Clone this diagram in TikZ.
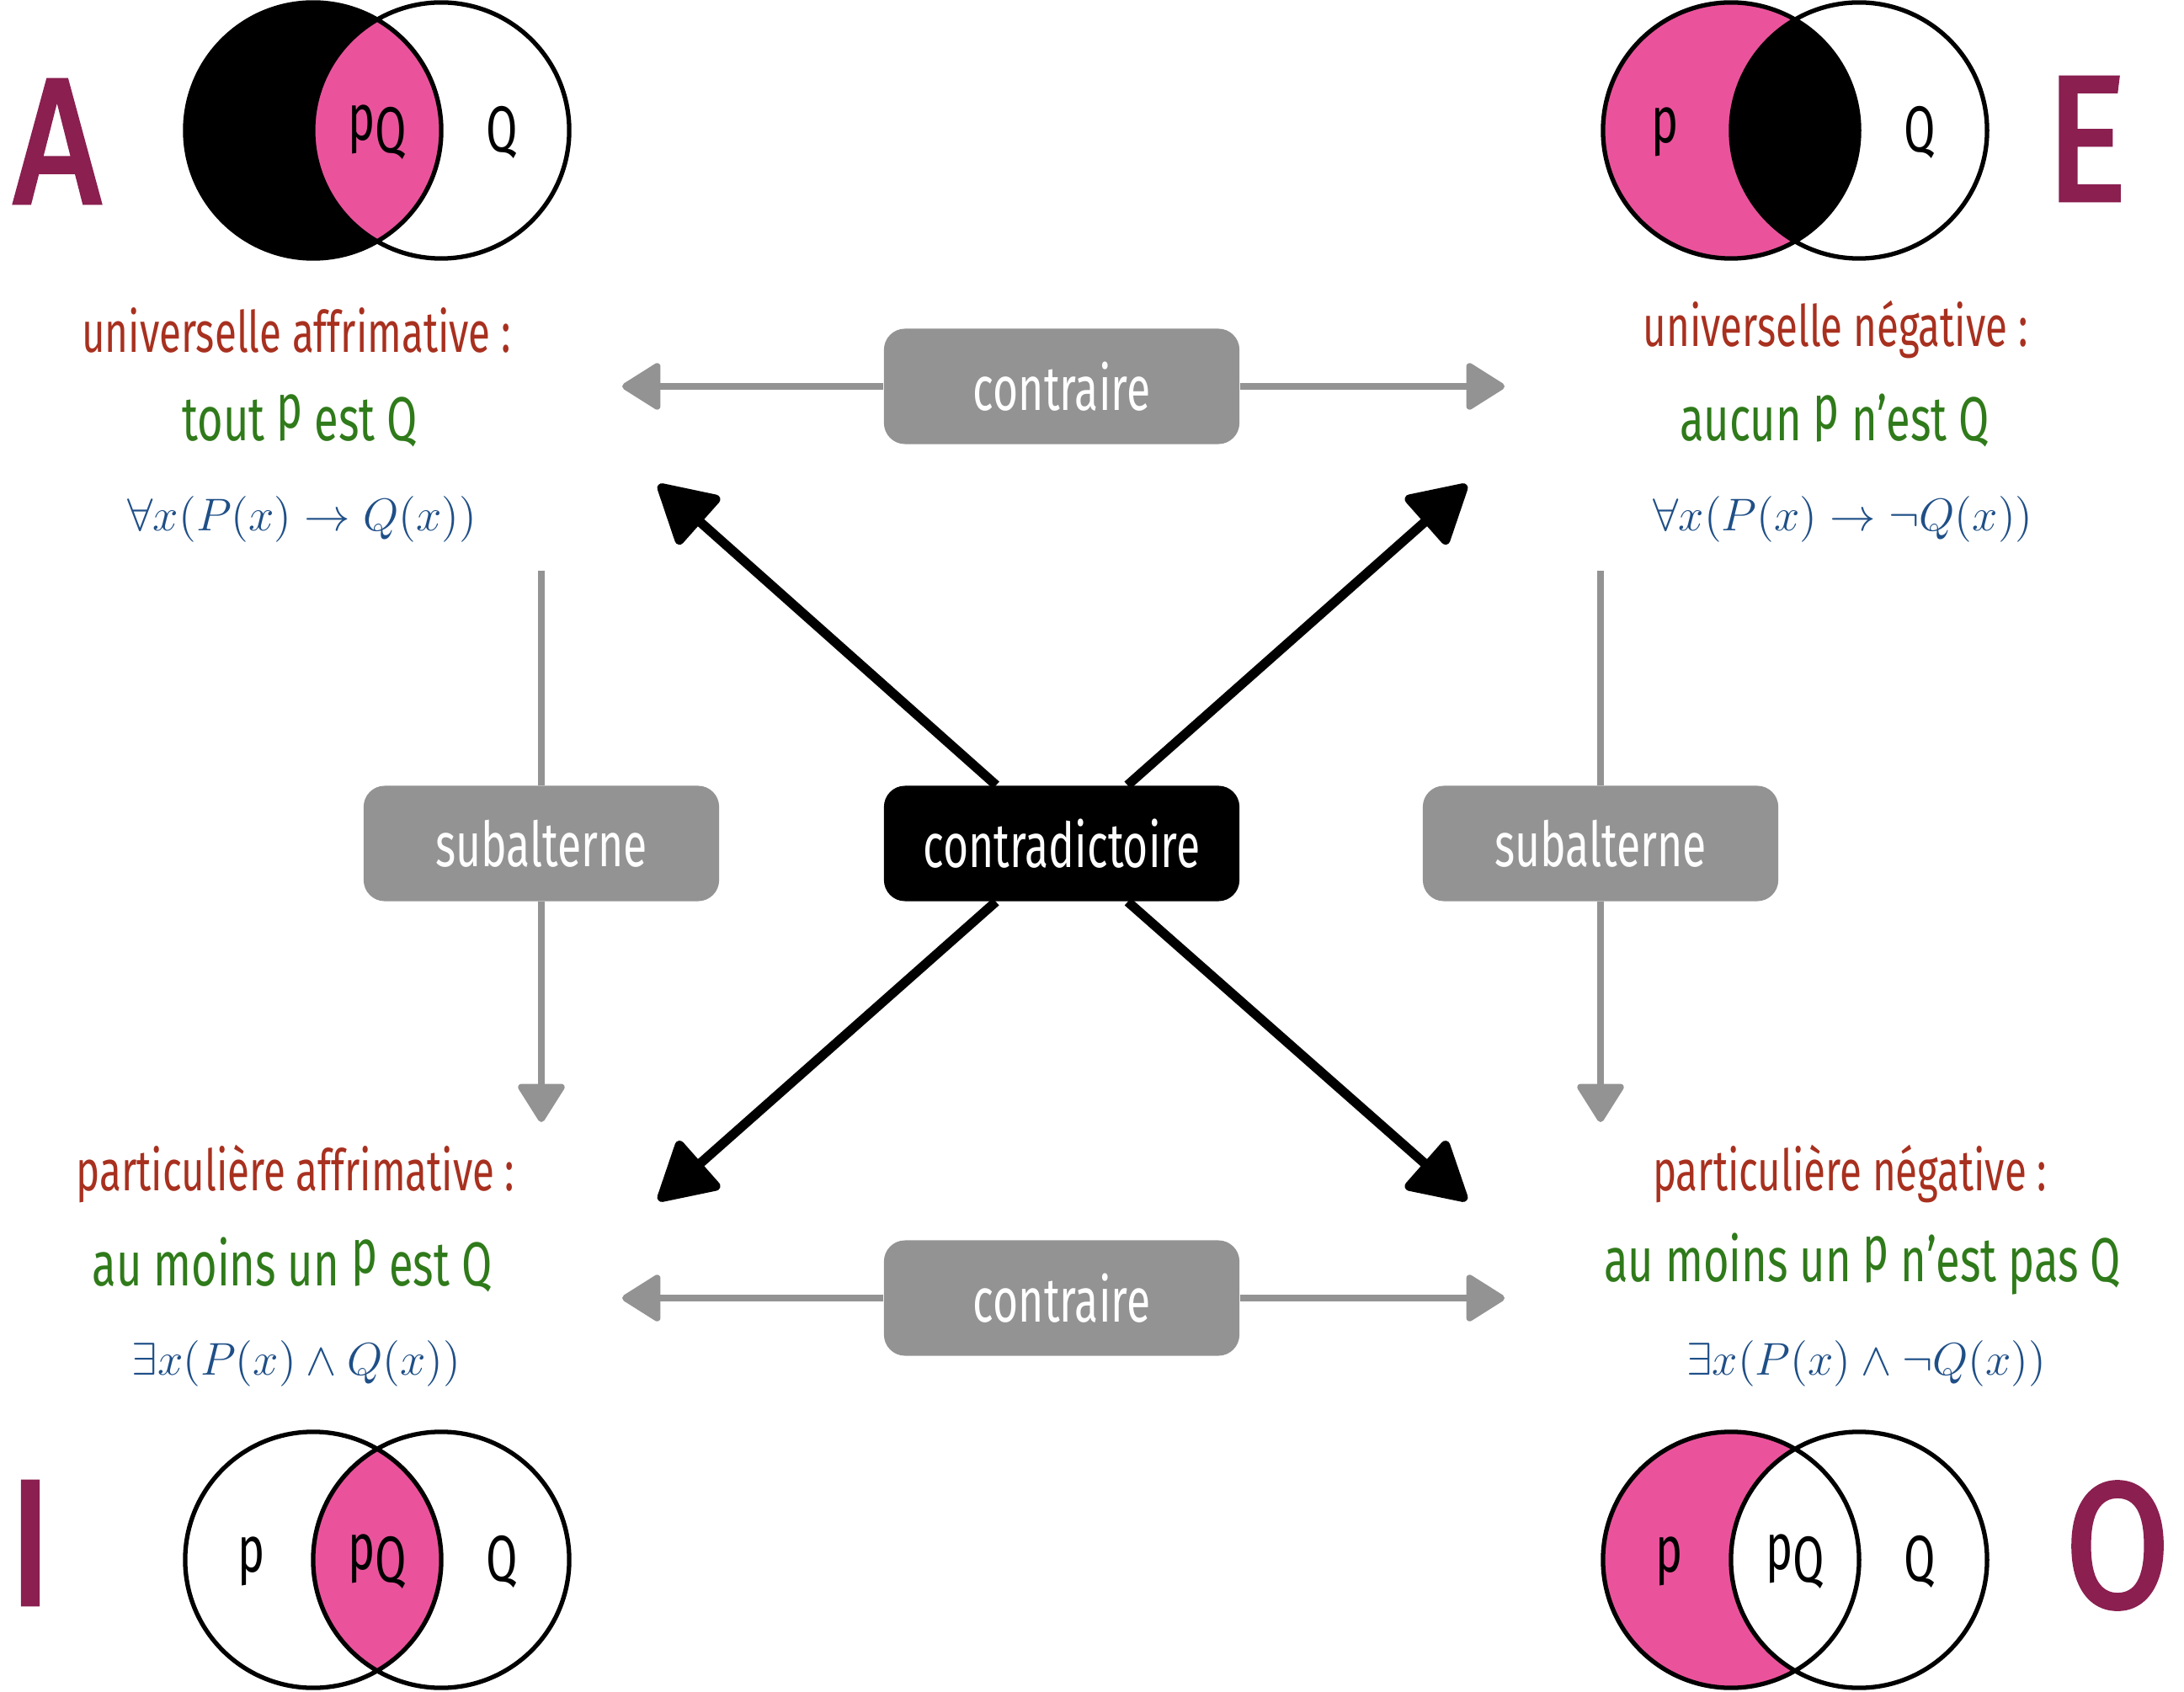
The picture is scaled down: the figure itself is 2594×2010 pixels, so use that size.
\documentclass[tikz,border=0pt]{standalone}
\usepackage{fix-cm}
\usepackage{fontspec}
\newfontfamily\hand[FakeStretch=0.70]{Fira Sans}
\newfontfamily\greenhand[FakeStretch=0.71]{Fira Sans}
\newfontfamily\letterfont[FakeStretch=0.85,FakeBold=2.5]{Fira Sans}
\usetikzlibrary{arrows.meta}
\definecolor{pinkv}{RGB}{234,83,155}
\definecolor{lettercol}{RGB}{138,31,80}
\definecolor{redtxt}{RGB}{168,48,31}
\definecolor{greentxt}{RGB}{47,122,26}
\definecolor{bluetxt}{RGB}{31,79,135}
\definecolor{boxgrey}{RGB}{147,147,147}
\newcommand\tp{\raisebox{0.2em}{p}}
\begin{document}
\begin{tikzpicture}[x=0.01cm,y=-0.01cm,
  relbox/.style={fill=boxgrey, rounded corners=0.25cm, minimum width=4.22cm, minimum height=1.37cm, inner sep=0pt, text=white, font=\hand\fontsize{21}{24}\selectfont},
  contrabox/.style={relbox, fill=black},
  redline/.style={text=redtxt, font=\hand\fontsize{19.3}{22}\selectfont},
  greenline/.style={text=greentxt, font=\greenhand\fontsize{21}{24}\selectfont},
  formula/.style={text=bluetxt, font=\fontsize{15.5}{19}\selectfont},
  bigletter/.style={text=lettercol, font=\letterfont\fontsize{60}{62}\selectfont},
  vlabel/.style={font=\hand\fontsize{22}{24}\selectfont},
  greyarrow/.style={draw=boxgrey, line width=2.3pt, -{Triangle[length=14pt,width=17pt,round]}},
  greyline/.style={draw=boxgrey, line width=2.3pt},
  blackarrow/.style={draw=black, line width=3.2pt, -{Triangle[length=21pt,width=23pt,round]}},
  vennline/.style={draw=black, line width=1.5pt}
]
\useasboundingbox (0,0) rectangle (2594,2010);

% ---------- Venn A ----------
\fill[black] (372,155) circle[radius=1.52cm];
\begin{scope}\clip (372,155) circle[radius=1.52cm]; \fill[pinkv] (524,155) circle[radius=1.52cm]; \end{scope}
\draw[vennline] (372,155) circle[radius=1.52cm] (524,155) circle[radius=1.52cm];
\node[vlabel] (apq) at (448,157) {\tp Q};
\node[vlabel] (aq) at (596,157) {Q};

% ---------- Venn E ----------
\fill[pinkv] (2056,155) circle[radius=1.52cm];
\begin{scope}\clip (2056,155) circle[radius=1.52cm]; \fill[black] (2208,155) circle[radius=1.52cm]; \end{scope}
\draw[vennline] (2056,155) circle[radius=1.52cm] (2208,155) circle[radius=1.52cm];
\node[vlabel] (ep) at (1978,157) {\tp};
\node[vlabel] (eq) at (2280,157) {Q};

% ---------- Venn I ----------
\begin{scope}\clip (372,1853) circle[radius=1.52cm]; \fill[pinkv] (524,1853) circle[radius=1.52cm]; \end{scope}
\draw[vennline] (372,1853) circle[radius=1.52cm] (524,1853) circle[radius=1.52cm];
\node[vlabel] (ip) at (299,1855) {\tp};
\node[vlabel] (ipq) at (448,1855) {\tp Q};
\node[vlabel] (iq) at (596,1855) {Q};

% ---------- Venn O ----------
\fill[pinkv] (2056,1853) circle[radius=1.52cm];
\begin{scope}\clip (2056,1853) circle[radius=1.52cm]; \fill[white] (2208,1853) circle[radius=1.52cm]; \end{scope}
\draw[vennline] (2056,1853) circle[radius=1.52cm] (2208,1853) circle[radius=1.52cm];
\node[vlabel] (op) at (1983,1855) {\tp};
\node[vlabel] (opq) at (2132,1855) {\tp Q};
\node[vlabel] (oq) at (2280,1855) {Q};

% ---------- big letters ----------
\node[bigletter] (LA) at (68,168) {A};
\node[bigletter] (LE) at (2478,165) {E};
\node[bigletter] (LI) at (36,1833) {I};
\node[bigletter] (LO) at (2515,1836) {O};

% ---------- texts ----------
\node[redline] (r1) at (352,392) {universelle affrimative :};
\node[greenline] (g1) at (356,500) {tout \tp{} est Q};
\node[formula] (b1) at (359,617) {$\forall x(P(x)\rightarrow Q(x))$};

\node[redline] (r2) at (2180,392) {universelle négative :};
\node[greenline] (g2) at (2179,500) {aucun \tp{} n’est Q};
\node[formula] (b2) at (2189,617) {$\forall x(P(x)\rightarrow \neg Q(x))$};

\node[redline] (r3) at (351,1395) {particulière affrimative :};
\node[greenline] (g3) at (347,1502) {au moins un \tp{} est Q};
\node[formula] (b3) at (352,1620) {$\exists x(P(x)\wedge Q(x))$};

\node[redline] (r4) at (2197,1395) {particulière négative :};
\node[greenline] (g4) at (2212,1502) {au moins un \tp{} n’est pas Q};
\node[formula] (b4) at (2217,1620) {$\exists x(P(x)\wedge \neg Q(x))$};

% ---------- relation boxes ----------
\node[relbox] (ctop) at (1261,459) {contraire};
\node[relbox] (cbot) at (1261,1542) {contraire};
\node[relbox] (subL) at (643,1002) {subalterne};
\node[relbox] (subR) at (1901,1002) {subalterne};
\node[contrabox] (contra) at (1261,1002) {contradictoire};

% ---------- connectors ----------
\coordinate (ctL) at (739,459);
\coordinate (ctR) at (1787,459);
\coordinate (cbL) at (739,1542);
\coordinate (cbR) at (1787,1542);
\draw[greyarrow] (ctop) -- (ctL);
\draw[greyarrow] (ctop) -- (ctR);
\draw[greyarrow] (cbot) -- (cbL);
\draw[greyarrow] (cbot) -- (cbR);

\coordinate (sLtop) at (643,678);
\coordinate (sLtip) at (643,1333);
\coordinate (sRtop) at (1901,678);
\coordinate (sRtip) at (1901,1333);
\draw[greyline] (sLtop) -- (subL);
\draw[greyarrow] (subL) -- (sLtip);
\draw[greyline] (sRtop) -- (subR);
\draw[greyarrow] (subR) -- (sRtip);

\coordinate (kA) at (782,576);
\coordinate (kE) at (1742,576);
\coordinate (kI) at (782,1426);
\coordinate (kO) at (1742,1426);
\draw[blackarrow] (contra) -- (kA);
\draw[blackarrow] (contra) -- (kE);
\draw[blackarrow] (contra) -- (kI);
\draw[blackarrow] (contra) -- (kO);
\end{tikzpicture}
\end{document}
